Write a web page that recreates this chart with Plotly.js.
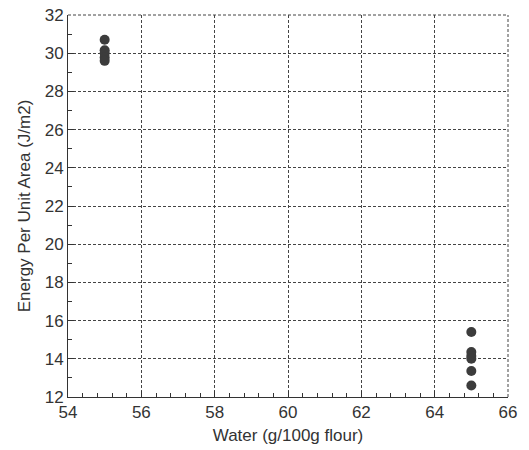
<!DOCTYPE html>
<html><head><meta charset="utf-8">
<script src="https://cdn.plot.ly/plotly-3.0.1.min.js"></script>
<style>html,body{margin:0;padding:0;background:#fff}#chart{width:529px;height:450px}</style>
</head><body><div id="chart"></div>
<script>
const waterLow = [55, 55, 55, 55, 55];
const energyLow = [30.7, 30.15, 30.0, 29.78, 29.6];
const waterHigh = [65, 65, 65, 65, 65, 65];
const energyHigh = [15.4, 14.35, 14.15, 14.0, 13.36, 12.6];
const xTicks = [54, 56, 58, 60, 62, 64, 66];
const yTicks = [12, 14, 16, 18, 20, 22, 24, 26, 28, 30, 32];

const marker = {color: '#3c3c3c', size: 10};
const traces = [
  {x: waterLow, y: energyLow, mode: 'markers', type: 'scatter', marker: marker, showlegend: false, cliponaxis: false},
  {x: waterHigh, y: energyHigh, mode: 'markers', type: 'scatter', marker: marker, showlegend: false, cliponaxis: false}
];
const fam = 'Liberation Sans, Arial, sans-serif';
const txt = '#333';
const layout = {
  width: 529, height: 450,
  margin: {l: 68, r: 21, t: 15, b: 53},
  paper_bgcolor: '#fff', plot_bgcolor: '#fff',
  font: {family: fam, color: txt},
  xaxis: {
    range: [54, 66], tickvals: xTicks, ticktext: xTicks.map(String),
    showline: true, linecolor: '#333', linewidth: 1, mirror: false,
    ticks: 'inside', ticklen: 6, tickcolor: '#333',
    showgrid: true, gridcolor: '#444', griddash: '3px,2px', gridwidth: 1,
    zeroline: false,
    tickfont: {size: 17, family: fam, color: txt},
    minor: {dtick: 0.4, tick0: 54, ticks: 'inside', ticklen: 4, tickcolor: '#333', showgrid: false},
    title: {text: 'Water (g/100g flour)', font: {size: 17, family: fam, color: txt}, standoff: 7}
  },
  yaxis: {
    range: [12, 32], tickvals: yTicks, ticktext: yTicks.map(String),
    showline: true, linecolor: '#333', linewidth: 1, mirror: false,
    ticks: 'inside', ticklen: 6, tickcolor: '#333',
    showgrid: true, gridcolor: '#444', griddash: '3px,2px', gridwidth: 1,
    zeroline: false,
    tickfont: {size: 17, family: fam, color: txt},
    minor: {dtick: 1, tick0: 12, ticks: 'inside', ticklen: 4, tickcolor: '#333', showgrid: false},
    title: {text: 'Energy Per Unit Area (J/m2)', font: {size: 17, family: fam, color: txt}, standoff: 9}
  },
  shapes: [
    {type: 'line', xref: 'paper', yref: 'paper', x0: 0, x1: 1, y0: 1, y1: 1, line: {color: '#444', width: 1, dash: '3px,2px'}},
    {type: 'line', xref: 'paper', yref: 'paper', x0: 1, x1: 1, y0: 0, y1: 1, line: {color: '#444', width: 1, dash: '3px,2px'}}
  ]
};
Plotly.newPlot('chart', traces, layout, {staticPlot: true});
</script></body></html>
